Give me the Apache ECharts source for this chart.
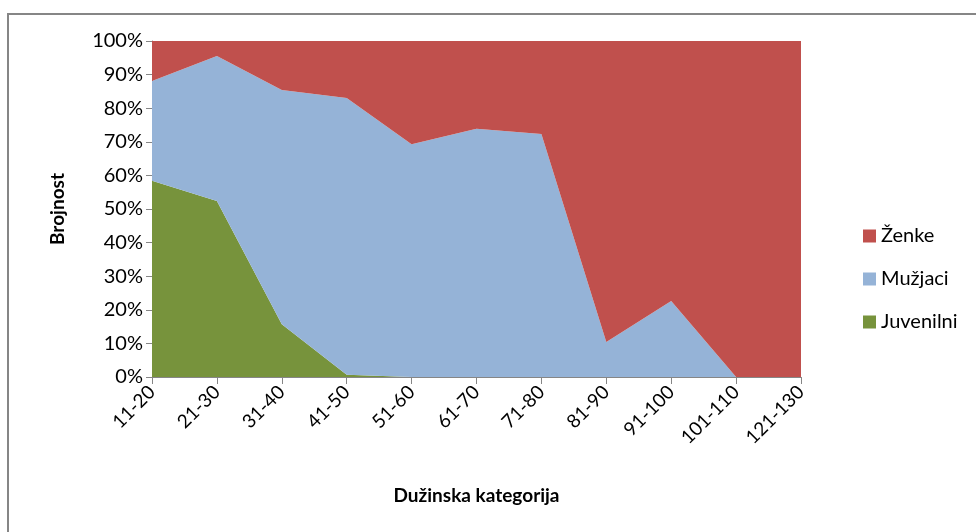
<!DOCTYPE html>
<html>
<head>
<meta charset="utf-8">
<script src="https://cdn.jsdelivr.net/npm/echarts@6/dist/echarts.min.js"></script>
<style>
    html, body { margin: 0; padding: 0; background: #fff; }
    #chart { width: 976px; height: 532px; }
</style>
</head>
<body>
<div id="chart"></div>
<script>
// kategorije
var categories = ['11-20', '21-30', '31-40', '41-50', '51-60', '61-70', '71-80', '81-90', '91-100', '101-110', '121-130'];
// udjeli u %
var juvenilni = [58.4, 52.4, 15.7, 0.7, 0, 0, 0, 0, 0, 0, 0];
var muzjaci = [29.7, 43.1, 69.7, 82.3, 69.3, 73.9, 72.3, 10.4, 22.6, 0, 0];
var zenke = [11.9, 4.5, 14.6, 17.0, 30.7, 26.1, 27.7, 89.6, 77.4, 100, 100];

var fontFam = 'Lato, "Open Sans", sans-serif';

var chart = echarts.init(document.getElementById('chart'));
var option = {
    animation: false,
    textStyle: { fontFamily: fontFam },
    graphic: [{
        type: 'rect',
        shape: { x: 8, y: 14, width: 1000, height: 600 },
        style: { fill: 'none', stroke: '#868686', lineWidth: 2 }
    }],
    legend: {
        orient: 'vertical',
        left: 858,
        top: 221,
        itemWidth: 13,
        itemHeight: 13,
        itemGap: 23,
        icon: 'rect',
        data: ['Ženke', 'Mužjaci', 'Juvenilni'],
        textStyle: { fontSize: 20, color: '#000', fontFamily: fontFam }
    },
    grid: {
        left: 152,
        right: 175,
        top: 41,
        bottom: 155
    },
    xAxis: {
        type: 'category',
        boundaryGap: false,
        data: categories,
        name: 'Dužinska kategorija',
        nameLocation: 'middle',
        nameGap: 109,
        nameTextStyle: { fontSize: 19, fontWeight: 'bold', color: '#000' },
        axisLine: { lineStyle: { color: '#868686', width: 1 } },
        axisTick: { length: 7, lineStyle: { color: '#868686' } },
        axisLabel: { rotate: 45, fontSize: 19, color: '#000', margin: 12 }
    },
    yAxis: {
        type: 'value',
        min: 0,
        max: 100,
        interval: 10,
        name: 'Brojnost',
        nameLocation: 'middle',
        nameGap: 85,
        nameTextStyle: { fontSize: 19, fontWeight: 'bold', color: '#000' },
        axisLine: { show: true, lineStyle: { color: '#868686', width: 1 } },
        axisTick: { show: true, length: 6, lineStyle: { color: '#868686' } },
        splitLine: { show: false },
        axisLabel: { formatter: '{value}%', fontSize: 20, color: '#000', margin: 9 }
    },
    series: [
        {
            name: 'Juvenilni',
            type: 'line',
            stack: 'ukupno',
            showSymbol: false,
            lineStyle: { width: 0 },
            areaStyle: { color: '#77933C', opacity: 1 },
            itemStyle: { color: '#77933C' },
            data: juvenilni
        },
        {
            name: 'Mužjaci',
            type: 'line',
            stack: 'ukupno',
            showSymbol: false,
            lineStyle: { width: 0 },
            areaStyle: { color: '#95B3D7', opacity: 1 },
            itemStyle: { color: '#95B3D7' },
            data: muzjaci
        },
        {
            name: 'Ženke',
            type: 'line',
            stack: 'ukupno',
            showSymbol: false,
            lineStyle: { width: 0 },
            areaStyle: { color: '#C0504D', opacity: 1 },
            itemStyle: { color: '#C0504D' },
            data: zenke
        }
    ]
};
chart.setOption(option);
</script>
</body>
</html>
